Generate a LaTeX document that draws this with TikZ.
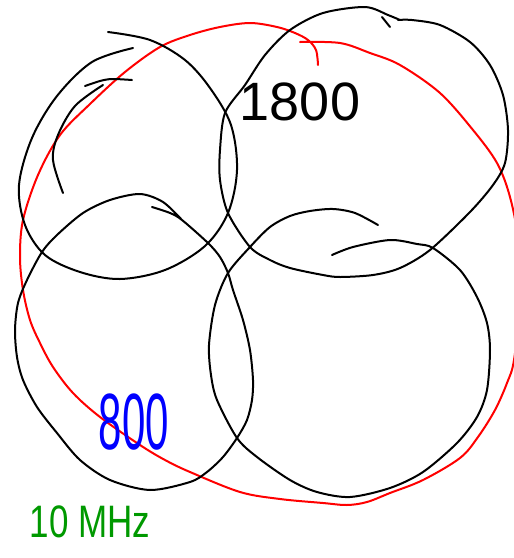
\documentclass[tikz,border=0pt]{standalone}
\usepackage{fontspec}
\setmainfont{Liberation Sans}
\definecolor{penred}{RGB}{255,0,0}
\definecolor{penblue}{RGB}{0,0,255}
\definecolor{pengreen}{RGB}{0,153,0}
\begin{document}
\begin{tikzpicture}[x=1pt,y=-1pt,line cap=round,line join=round,
  ink/.style={line width=2pt,black},
  redink/.style={line width=2pt,penred},
  lbl/.style={inner sep=0pt,outer sep=0pt}]
\useasboundingbox (0,0) rectangle (514,558);
\fill[white] (0,0) rectangle (514,558);
\clip (0,0) rectangle (514,558);
% red loop
\draw[redink] plot[smooth,tension=0.55] coordinates {(318,65) (316,50) (308,40) (295,33) (277,27) (250,23) (220,27) (190,35) (160,47) (125,72) (90,104) (60,135) (38,175) (23,220) (20,257) (23,290) (30,320) (40,343) (53,367) (73,393) (100,417) (140,445) (165,460) (190,472) (240,492) (280,499) (323,503) (347,505) (367,502) (390,493) (423,480) (460,458) (478,437) (495,410) (507,383) (514,360) (520,300) (518,240) (510,197) (497,163) (473,130) (440,93) (400,65) (370,53) (340,43) (300,42)};
% top-left circle
\draw[ink] plot[smooth,tension=0.55] coordinates {(133,48) (92,62) (57,96) (32,138) (19,185) (25,225) (45,255) (80,272) (120,279) (165,270) (205,246) (228,213) (237,170) (231,125) (210,88) (185,60) (150,40) (108,32)};
\draw[ink] plot[smooth,tension=0.5] coordinates {(85,86) (100,81) (112,79) (132,80)};
\draw[ink] plot[smooth,tension=0.55] coordinates {(103,85) (75,106) (58,135) (53,160) (63,193)};
% top-right circle
\draw[ink] (382,17) -- (390,27);
\draw[ink] plot[smooth,tension=0.5] coordinates {(400,20) (388,15) (365,7) (323,13) (290,30) (265,55) (245,85) (225,113) (220,150) (220,180) (228,213) (250,247) (270,260) (290,268) (323,275) (340,277) (373,275) (400,268) (430,250) (470,212) (493,185) (505,163) (508,130) (503,95) (490,65) (470,42) (440,25) (412,20) (398,20)};
% bottom-left circle
\draw[ink] plot[smooth,tension=0.5] coordinates {(152,207) (170,213) (182,220) (208,243) (220,257) (228,273) (233,290) (243,320) (250,350) (253,380) (252,400) (247,420) (237,438) (223,457) (207,472) (190,482) (150,490) (110,480) (80,460) (57,433) (37,407) (23,380) (17,357) (15,330) (18,303) (27,280) (42,252) (57,235) (83,213) (110,200) (140,194) (163,202) (182,220)};
% bottom-right circle
\draw[ink] plot[smooth,tension=0.5] coordinates {(378,225) (355,213) (333,209) (310,211) (290,216) (270,227) (250,247) (228,273) (215,305) (209,345) (211,375) (217,400) (237,438) (257,457) (290,480) (317,492) (350,497) (390,488) (423,472) (457,443) (477,417) (487,390) (490,350) (487,323) (477,297) (460,270) (433,248) (417,244) (390,240) (353,247) (332,255)};
% labels
\node[lbl,text=black,font=\fontsize{54}{54}\selectfont] (t1800) at (300,102) {1800};
\node[lbl,text=penblue,font=\fontsize{42}{42}\selectfont] (t800) at (134,422) {\scalebox{1}[1.9]{800}};
\node[lbl,text=pengreen,font=\fontsize{35}{35}\selectfont] (t10) at (90,522) {\scalebox{1}[1.3]{10 MHz}};
\end{tikzpicture}
\end{document}
